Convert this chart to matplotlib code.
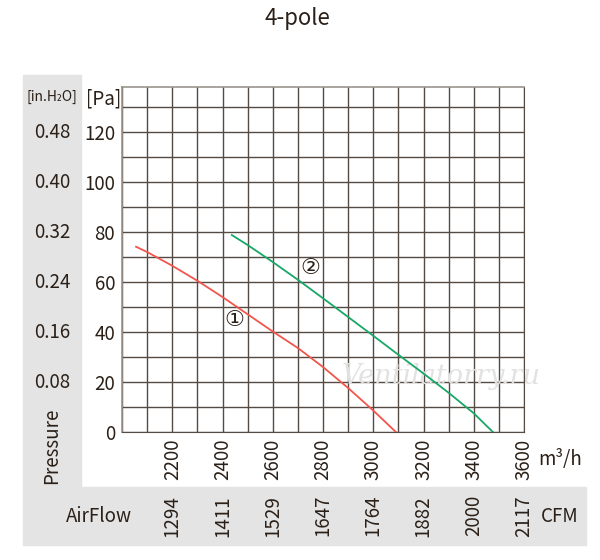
import numpy as np
import matplotlib
matplotlib.use("Agg")
import matplotlib.pyplot as plt
from matplotlib.patches import Rectangle

plt.rcParams['font.family'] = ['Noto Sans CJK SC', 'DejaVu Sans']

# data
flow_ticks = [2200, 2400, 2600, 2800, 3000, 3200, 3400, 3600]
cfm_labels = ['1294', '1411', '1529', '1647', '1764', '1882', '2000', '2117']
pa_ticks = [0, 20, 40, 60, 80, 100, 120]
inh2o_labels = ['0.08', '0.16', '0.24', '0.32', '0.40', '0.48']

curve1_x = [2056, 2100, 2200, 2300, 2400, 2500, 2600, 2700, 2800, 2900, 3000, 3090]
curve1_y = [74.1, 72, 66.5, 60.5, 54, 47.1, 40.2, 33.6, 26, 17.6, 8.6, 0]
curve2_x = [2437, 2500, 2600, 2700, 2800, 2900, 3000, 3100, 3200, 3300, 3400, 3476]
curve2_y = [78.8, 74.8, 68.0, 60.9, 53.5, 46, 38.5, 30.9, 23.4, 15.7, 7.5, 0]

txt = '#2a2018'
grid_c = '#554b42'
panel = '#e4e4e4'
fs = 13.5

W, H = 600, 560
fig = plt.figure(figsize=(6, 5.6), dpi=100)

def fx(px):
    return px / W

def fy(py):
    return 1 - py / H

# grey label panels
fig.patches.append(Rectangle((fx(23), fy(487)), fx(81) - fx(23), fy(75) - fy(487),
                             transform=fig.transFigure, color=panel, zorder=0))
fig.patches.append(Rectangle((fx(23), fy(545)), fx(586) - fx(23), fy(487) - fy(545),
                             transform=fig.transFigure, color=panel, zorder=0))

ax = fig.add_axes([fx(122), fy(432), fx(524) - fx(122), fy(87) - fy(432)])
ax.set_xlim(2000, 3600)
ax.set_ylim(0, 138)
ax.set_xticks(flow_ticks)
ax.set_xticks(np.arange(2000, 3601, 100), minor=True)
ax.set_yticks(pa_ticks)
ax.set_yticks(np.arange(0, 131, 10), minor=True)
ax.grid(which='both', color=grid_c, linewidth=1.0)
ax.set_axisbelow(True)
ax.tick_params(which='both', length=0)
ax.tick_params(axis='y', labelsize=fs, labelcolor=txt, pad=5)
ax.tick_params(axis='x', labelsize=fs, labelcolor=txt, labelrotation=90, pad=5)
for s in ['top', 'left']:
    ax.spines[s].set_color('#9a938c')
    ax.spines[s].set_linewidth(1.2)
ax.spines['right'].set_color(grid_c)
ax.spines['bottom'].set_color(grid_c)

ax.plot(curve1_x, curve1_y, color='#f2554c', linewidth=1.3, zorder=3)
ax.plot(curve2_x, curve2_y, color='#16a866', linewidth=1.3, zorder=3)
ax.text(2447, 45, '①', fontsize=16, color=txt, ha='center', va='center',
        family=['DejaVu Sans'], zorder=4)
ax.text(2749, 65.5, '②', fontsize=16, color=txt, ha='center', va='center',
        family=['DejaVu Sans'], zorder=4)
ax.text(3270, 22, 'Ventilatorry.ru', fontsize=19.5, color='#e2e2e2', style='italic',
        ha='center', va='center', family=['DejaVu Serif'], zorder=2)

# title
fig.text(fx(297), fy(18), '4-pole', fontsize=16, color=txt, ha='center', va='center')

# left panel
fig.text(fx(52), fy(97), '[in.H₂O]', fontsize=10, color=txt, ha='center', va='center',
         stretch='condensed')
fig.text(fx(104), fy(99), '[Pa]', fontsize=fs, color=txt, ha='center', va='center')
for lab, v in zip(inh2o_labels, pa_ticks[1:]):
    py = 432 - v * 2.5
    fig.text(fx(52), fy(py), lab, fontsize=fs, color=txt, ha='center', va='center')
fig.text(fx(52), fy(446), 'Pressure', fontsize=fs, color=txt, ha='center', va='center',
         rotation=90)

# bottom band
fig.text(fx(99), fy(516), 'AirFlow', fontsize=fs, color=txt, ha='center', va='center')
for lab, v in zip(cfm_labels, flow_ticks):
    px = 122 + (v - 2000) / 100 * 25.1
    fig.text(fx(px), fy(495), lab, fontsize=fs, color=txt, ha='center', va='top',
             rotation=90)
fig.text(fx(560), fy(516), 'CFM', fontsize=fs, color=txt, ha='center', va='center')
fig.text(fx(560), fy(459), 'm³/h', fontsize=fs, color=txt, ha='center', va='center')

fig.savefig('out.png', dpi=100, facecolor='white')
